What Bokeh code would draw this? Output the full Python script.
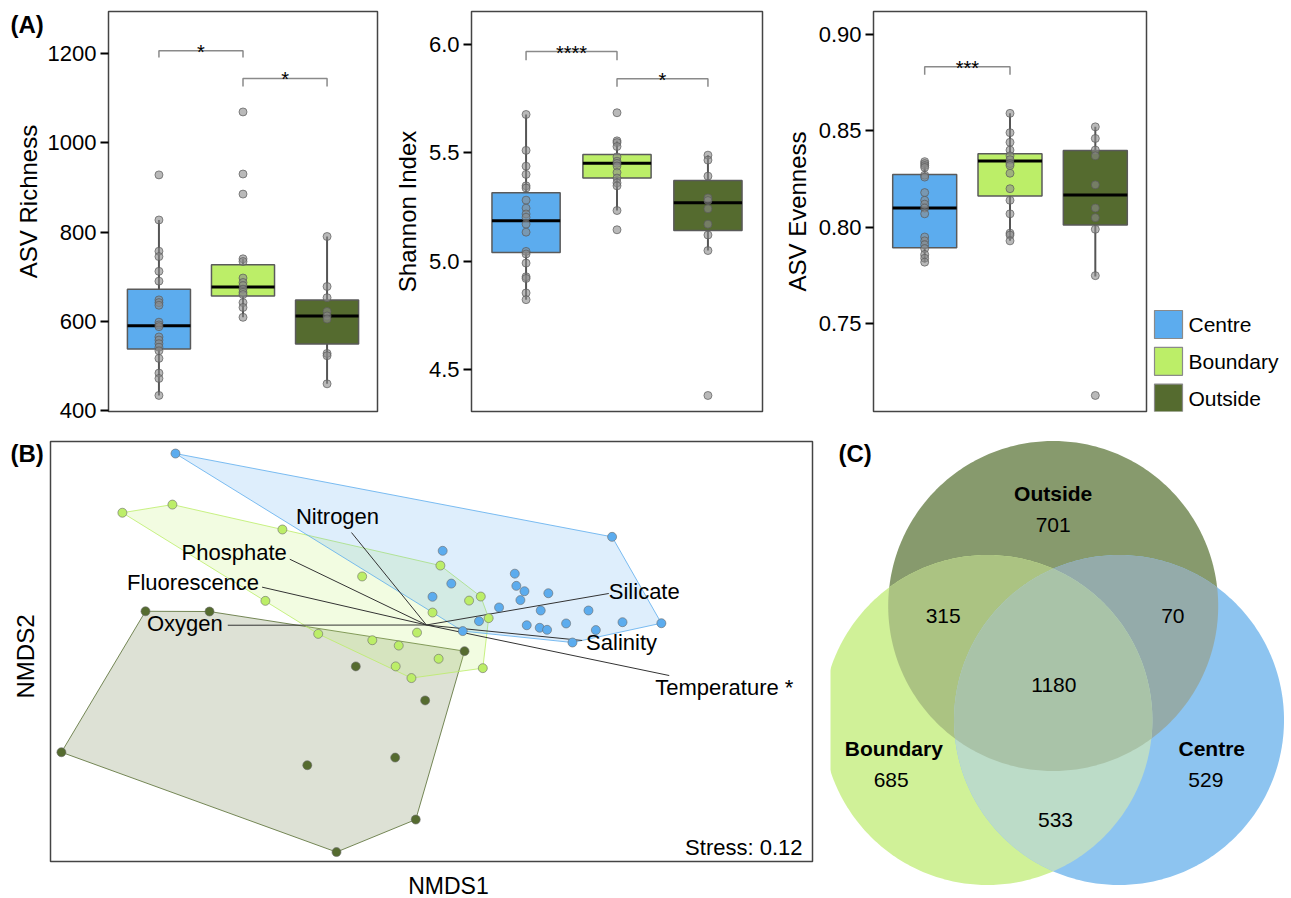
import numpy as np
from bokeh.plotting import figure
from bokeh.layouts import column, row
from bokeh.models import Range1d, FixedTicker, Label, NumeralTickFormatter
from bokeh.core.properties import value
from bokeh.embed import file_html
from bokeh.resources import INLINE

FONT = "Liberation Sans"

# ---------------- data ----------------
groups = ["Centre", "Boundary", "Outside"]
group_colors = ["#5CACEE", "#BCEE68", "#556B2F"]

# (A) ASV richness
rich_q1 = [538, 657, 549]
rich_med = [590, 677, 612]
rich_q3 = [672, 727, 648]
rich_lo = [434, 609, 460]
rich_hi = [827, 740, 790]
rich_centre = [928, 827, 757, 745, 712, 690, 648, 642, 636, 598, 592, 588, 565, 558, 550, 542, 534, 517, 484, 472, 434]
rich_boundary = [1069, 930, 885, 740, 734, 697, 687, 680, 672, 665, 660, 642, 631, 609]
rich_outside = [790, 678, 653, 622, 612, 605, 528, 523, 460]
rich_brackets = [(1, 2, 1206, 1191, "*"), (2, 3, 1144, 1126, "*")]

# (A) Shannon index
shan_q1 = [5.040, 5.384, 5.142]
shan_med = [5.187, 5.452, 5.270]
shan_q3 = [5.316, 5.493, 5.373]
shan_lo = [4.822, 5.234, 5.049]
shan_hi = [5.678, 5.556, 5.490]
shan_centre = [5.678, 5.512, 5.439, 5.401, 5.348, 5.338, 5.282, 5.245, 5.218, 5.203, 5.171, 5.134,
               5.045, 5.033, 4.991, 4.928, 4.920, 4.853, 4.822]
shan_boundary = [5.686, 5.556, 5.548, 5.530, 5.482, 5.462, 5.452, 5.440, 5.410, 5.384, 5.362, 5.348, 5.234, 5.145]
shan_outside = [5.490, 5.467, 5.393, 5.292, 5.280, 5.242, 5.171, 5.121, 5.049, 4.379]
shan_brackets = [(1, 2, 5.969, 5.929, "****"), (2, 3, 5.843, 5.806, "*")]

# (A) ASV evenness
even_q1 = [0.7895, 0.8162, 0.8012]
even_med = [0.8100, 0.8343, 0.8167]
even_q3 = [0.8273, 0.8381, 0.8398]
even_lo = [0.782, 0.793, 0.7745]
even_hi = [0.834, 0.859, 0.852]
even_centre = [0.834, 0.833, 0.832, 0.831, 0.827, 0.826, 0.818, 0.814, 0.812, 0.810, 0.807, 0.795,
               0.793, 0.791, 0.789, 0.786, 0.784, 0.782]
even_boundary = [0.859, 0.849, 0.844, 0.840, 0.837, 0.835, 0.833, 0.832, 0.828, 0.820, 0.814, 0.807,
                 0.797, 0.796, 0.793]
even_outside = [0.852, 0.846, 0.840, 0.837, 0.822, 0.810, 0.805, 0.799, 0.775, 0.713]
even_brackets = [(1, 2, 0.8831, 0.879, "***")]

# (B) NMDS site scores
nmds_centre_x = [-0.988, 0.731, 0.064, 0.348, 0.098, 0.354, 0.386, 0.480, 0.024, 0.370, 0.286, 0.638,
                 0.450, 0.207, 0.550, 0.395, 0.772, 0.925, 0.446, 0.475, 0.667, 0.143, 0.575]
nmds_centre_y = [0.675, 0.347, 0.292, 0.202, 0.163, 0.154, 0.133, 0.125, 0.111, 0.098, 0.069, 0.057,
                 0.057, 0.015, 0.006, -0.001, 0.011, 0.007, -0.011, -0.019, -0.020, -0.024, -0.069]
nmds_boundary_x = [-1.197, -1.000, -0.567, -0.253, -0.634, -0.426, -0.213, -0.109, -0.121, -0.059,
                   -0.037, 0.055, 0.168, 0.214, 0.024, 0.245, 0.048, 0.222]
nmds_boundary_y = [0.442, 0.474, 0.376, 0.191, 0.095, -0.035, -0.060, -0.081, -0.163, -0.209,
                   -0.030, 0.234, 0.096, 0.112, 0.049, 0.027, -0.133, -0.170]
nmds_outside_x = [-1.106, -0.854, -1.437, -0.278, -0.469, -0.123, -0.354, -0.042, 0.150, -0.005]
nmds_outside_y = [0.054, 0.053, -0.501, -0.163, -0.552, -0.522, -0.894, -0.766, -0.103, -0.297]

# (B) environmental fit vectors
env_names = ["Nitrogen", "Phosphate", "Fluorescence", "Oxygen", "Silicate", "Salinity", "Temperature *"]
env_x = [-0.295, -0.538, -0.647, -0.782, 0.718, 0.613, 0.956]
env_y = [0.364, 0.259, 0.149, -0.001, 0.124, -0.061, -0.199]
stress_text = "Stress: 0.12"

# (C) Venn counts
venn_regions = ["O", "B", "C", "OB", "OC", "BC", "OBC"]
venn_counts = [701, 685, 529, 315, 70, 533, 1180]

# ---------------- style / layout ----------------
venn_region_colors = {"O": "#879a6d", "B": "#d0f198", "C": "#8dc4f0", "OB": "#abc382",
                      "OC": "#94abaa", "BC": "#bcdcc8", "OBC": "#a9c3a8"}
env_label_layout = {"Nitrogen": ("center", -14, -16), "Phosphate": ("right", -3, -7),
                    "Fluorescence": ("right", -3, -5), "Oxygen": ("right", -5, -2),
                    "Silicate": ("left", 0, -2), "Salinity": ("left", 4, 2),
                    "Temperature *": ("left", -14, 12)}

ROW1_H, ROW1_TOP, ROW1_BOT = 424, 11, 13
ROW2_H = 474
NMDS_PX = 254.0                       # pixels per NMDS unit
NMDS_BOX = (-1.480, 1.520, -0.9311, 0.7224)   # panel limits (x0, x1, y0, y1)


def style_frame(p):
    p.outline_line_color = "#444444"
    p.outline_line_width = 1.5
    p.xgrid.grid_line_color = None
    p.ygrid.grid_line_color = None
    p.background_fill_color = "white"
    p.border_fill_color = "white"


def blank_fig(width, height, top=0, bot=0, xr=None, yr=None):
    p = figure(width=width, height=height,
               x_range=xr if xr is not None else Range1d(0, width),
               y_range=yr if yr is not None else Range1d(bot, height - top),
               output_backend="svg", toolbar_location=None, x_axis_location=None,
               y_axis_location=None, title_location=None,
               min_border_left=0, min_border_right=0, min_border_top=top, min_border_bottom=bot)
    p.outline_line_color = None
    p.xgrid.grid_line_color = None
    p.ygrid.grid_line_color = None
    return p


def side_labels(width, height, top, bot, letter, letter_xy, axis_text, axis_xy):
    p = blank_fig(width, height, top, bot)
    p.text(x=[letter_xy[0]], y=[height - letter_xy[1]], text=[letter], text_font=value(FONT),
           text_font_size="24px", text_font_style="bold", text_align="left",
           text_baseline="middle", text_color="black")
    p.text(x=[axis_xy[0]], y=[height - axis_xy[1]], text=[axis_text], text_font=value(FONT),
           text_font_size="24px", text_align="center", text_baseline="middle",
           angle=np.pi / 2, text_color="black")
    return p


def box_panel(width, bl, br, ylabel, yr, ticks, fmt, q1, med, q3, lo, hi, pts, brackets):
    p = figure(width=width, height=ROW1_H, x_range=Range1d(0.4, 3.6), y_range=Range1d(*yr),
               output_backend="svg", toolbar_location=None, x_axis_location=None, title_location=None,
               min_border_left=bl, min_border_right=br, min_border_top=ROW1_TOP, min_border_bottom=ROW1_BOT)
    style_frame(p)
    ax = p.yaxis[0]
    ax.ticker = FixedTicker(ticks=ticks)
    ax.formatter = NumeralTickFormatter(format=fmt)
    if ylabel:
        ax.axis_label = ylabel
    ax.axis_label_text_font = FONT
    ax.axis_label_text_font_size = "24px"
    ax.axis_label_text_font_style = "normal"
    ax.axis_label_text_color = "black"
    ax.axis_label_standoff = 5
    ax.major_label_text_font = FONT
    ax.major_label_text_font_size = "22px"
    ax.major_label_text_color = "black"
    ax.major_label_standoff = 4
    ax.axis_line_color = None
    ax.major_tick_out = 8
    ax.major_tick_in = 0
    ax.major_tick_line_width = 2
    ax.major_tick_line_color = "black"
    ax.minor_tick_line_color = None
    for i in range(3):
        x = i + 1
        p.segment(x0=[x], y0=[lo[i]], x1=[x], y1=[hi[i]], line_color="#555555", line_width=2)
        p.quad(left=[x - 0.375], right=[x + 0.375], bottom=[q1[i]], top=[q3[i]],
               fill_color=group_colors[i], line_color="#5a5a5a", line_width=1.5)
        p.segment(x0=[x - 0.375], y0=[med[i]], x1=[x + 0.375], y1=[med[i]],
                  line_color="black", line_width=3)
    for i in range(3):
        p.scatter(x=[i + 1] * len(pts[i]), y=pts[i], size=8, fill_color="#8a8a8a", fill_alpha=0.6,
                  line_color="#5a5a5a", line_alpha=0.7, line_width=1)
    for (a, b, y, leg, lab) in brackets:
        p.line(x=[a, a, b, b], y=[leg, y, y, leg], line_color="#8a8a8a", line_width=1.5)
        p.text(x=[(a + b) / 2], y=[y], text=[lab], text_font=value(FONT), text_font_size="20px",
               text_align="center", text_baseline="alphabetic", y_offset=1, text_color="black")
    return p


pA = side_labels(44, ROW1_H, ROW1_TOP, ROW1_BOT, "(A)", (10, 24), "ASV Richness", (28, 201))
p1 = box_panel(346, 61, 13, None, (398, 1294), [400, 600, 800, 1000, 1200], "0",
               rich_q1, rich_med, rich_q3, rich_lo, rich_hi,
               [rich_centre, rich_boundary, rich_outside], rich_brackets)
p2 = box_panel(390, 76, 18, "Shannon Index", (4.305, 6.154), [4.5, 5.0, 5.5, 6.0], "0.0",
               shan_q1, shan_med, shan_q3, shan_lo, shan_hi,
               [shan_centre, shan_boundary, shan_outside], shan_brackets)
p3 = box_panel(370, 86, 4, "ASV Evenness", (0.7047, 0.9117), [0.75, 0.80, 0.85, 0.90], "0.00",
               even_q1, even_med, even_q3, even_lo, even_hi,
               [even_centre, even_boundary, even_outside], even_brackets)

# legend (drawn as its own small panel)
pLeg = blank_fig(141, ROW1_H, ROW1_TOP, ROW1_BOT)
leg_top = [310 + i * 36.8 for i in range(len(groups))]
pLeg.quad(left=[4] * 3, right=[32] * 3, top=[ROW1_H - t for t in leg_top],
          bottom=[ROW1_H - t - 28 for t in leg_top],
          fill_color=group_colors, line_color="#8a8a8a", line_width=1.2)
pLeg.text(x=[38] * 3, y=[ROW1_H - t - 14 for t in leg_top], text=groups, text_font=value(FONT),
          text_font_size="21px", text_align="left", text_baseline="middle", text_color="black")

# ---------------- (B) NMDS ----------------
PB_W = 48
pB = side_labels(PB_W, ROW2_H, 0, 0, "(B)", (10, 453 - ROW1_H), "NMDS2", (25, 656 - ROW1_H))

P4_W = 830 - PB_W
bx0, bx1, by0, by1 = NMDS_BOX
x_start = bx0 - (50 - PB_W) / NMDS_PX
y_end = by1 + (441 - ROW1_H) / NMDS_PX
xr4 = Range1d(x_start, x_start + P4_W / NMDS_PX)
yr4 = Range1d(y_end - ROW2_H / NMDS_PX, y_end)
p4 = blank_fig(P4_W, ROW2_H, xr=xr4, yr=yr4)

# panel box
p4.quad(left=[bx0], right=[bx1], bottom=[by0], top=[by1], fill_color="white",
        line_color="#444444", line_width=1.5)


def convex_hull(xs, ys):
    pts = sorted(set(zip(xs, ys)))

    def cross(o, a, b):
        return (a[0] - o[0]) * (b[1] - o[1]) - (a[1] - o[1]) * (b[0] - o[0])
    lower, upper = [], []
    for pt in pts:
        while len(lower) >= 2 and cross(lower[-2], lower[-1], pt) <= 0:
            lower.pop()
        lower.append(pt)
    for pt in reversed(pts):
        while len(upper) >= 2 and cross(upper[-2], upper[-1], pt) <= 0:
            upper.pop()
        upper.append(pt)
    hull = lower[:-1] + upper[:-1]
    return [h[0] for h in hull], [h[1] for h in hull]


site_sets = [(nmds_centre_x, nmds_centre_y), (nmds_boundary_x, nmds_boundary_y), (nmds_outside_x, nmds_outside_y)]
for (xs, ys), c in zip(site_sets[::-1], group_colors[::-1]):
    hx, hy = convex_hull(xs, ys)
    p4.patch(hx, hy, fill_color=c, fill_alpha=0.2, line_color=c, line_alpha=0.8, line_width=1)

p4.segment(x0=[0] * len(env_x), y0=[0] * len(env_y), x1=env_x, y1=env_y, line_color="#333333", line_width=1)

for (xs, ys), c in zip(site_sets[::-1], group_colors[::-1]):
    p4.scatter(x=xs, y=ys, size=9, fill_color=c, line_color="#6a6a6a", line_alpha=0.6, line_width=1)

for name, ex, ey in zip(env_names, env_x, env_y):
    al, dx, dy = env_label_layout[name]
    p4.text(x=[ex], y=[ey], text=[name], text_font=value(FONT), text_font_size="22px",
            text_align=al, text_baseline="middle", x_offset=dx, y_offset=dy, text_color="black")

p4.text(x=[bx1], y=[by0], text=[stress_text], text_font=value(FONT), text_font_size="22px",
        text_align="right", text_baseline="middle", x_offset=-10, y_offset=-14, text_color="black")
p4.text(x=[(bx0 + bx1) / 2], y=[by0], text=["NMDS1"], text_font=value(FONT), text_font_size="23px",
        text_align="center", text_baseline="middle", x_offset=17, y_offset=25, text_color="black")

# ---------------- (C) Venn ----------------
VENN_PX = 165.0
venn_cx, venn_cy = 1052.7 - 830, 681.5 - ROW1_H
xr5 = Range1d(-venn_cx / VENN_PX, (461 - venn_cx) / VENN_PX)
yr5 = Range1d(-(ROW2_H - venn_cy) / VENN_PX, venn_cy / VENN_PX)
p5 = blank_fig(461, ROW2_H, xr=xr5, yr=yr5)

R = 1.0
D = 0.4606
venn_centres = {"O": (0.0, D), "B": (-D * np.cos(np.pi / 6), -D * np.sin(np.pi / 6)),
                "C": (D * np.cos(np.pi / 6), -D * np.sin(np.pi / 6))}


def circle_poly(cx, cy, r, n=360):
    t = np.linspace(0, 2 * np.pi, n, endpoint=False)
    return list(zip(cx + r * np.cos(t), cy + r * np.sin(t)))


def clip_poly(subject, clipper):
    out = subject
    m = len(clipper)
    for i in range(m):
        a = clipper[i]
        b = clipper[(i + 1) % m]
        inp = out
        out = []
        if not inp:
            break

        def inside(pt):
            return (b[0] - a[0]) * (pt[1] - a[1]) - (b[1] - a[1]) * (pt[0] - a[0]) >= 0

        def inter(p_, q_):
            x1, y1 = p_
            x2, y2 = q_
            x3, y3 = a
            x4, y4 = b
            den = (x1 - x2) * (y3 - y4) - (y1 - y2) * (x3 - x4)
            t = ((x1 - x3) * (y3 - y4) - (y1 - y3) * (x3 - x4)) / den
            return (x1 + t * (x2 - x1), y1 + t * (y2 - y1))
        s = inp[-1]
        for e in inp:
            if inside(e):
                if not inside(s):
                    out.append(inter(s, e))
                out.append(e)
            elif inside(s):
                out.append(inter(s, e))
            s = e
    return out


polys = {k: circle_poly(cx, cy, R) for k, (cx, cy) in venn_centres.items()}
for key in venn_regions:
    poly = polys[key[0]]
    for k in key[1:]:
        poly = clip_poly(poly, polys[k])
    p5.patch([q[0] for q in poly], [q[1] for q in poly], fill_color=venn_region_colors[key],
             line_color=None)

venn_count_pos = {"O": (0.0, 0.953), "B": (-0.982, -0.591), "C": (0.925, -0.591),
                  "OB": (-0.667, 0.403), "OC": (0.725, 0.403), "BC": (0.014, -0.835), "OBC": (0.004, -0.017)}
venn_name_pos = {"Outside": (0.0, 1.141), "Boundary": (-0.966, -0.405), "Centre": (0.961, -0.405)}

p5.text(x=[venn_count_pos[k][0] for k in venn_regions], y=[venn_count_pos[k][1] for k in venn_regions],
        text=[str(c) for c in venn_counts], text_font=value(FONT), text_font_size="21px",
        text_align="center", text_baseline="middle", text_color="black")
p5.text(x=[venn_name_pos[g][0] for g in groups], y=[venn_name_pos[g][1] for g in groups],
        text=groups, text_font=value(FONT), text_font_size="21px", text_font_style="bold",
        text_align="center", text_baseline="middle", text_color="black")
p5.text(x=[xr5.start], y=[yr5.end], text=["(C)"], text_font=value(FONT), text_font_style="bold",
        text_font_size="24px", text_align="left", text_baseline="middle", x_offset=8,
        y_offset=453 - ROW1_H, text_color="black")

layout = column(row(pA, p1, p2, p3, pLeg), row(pB, p4, p5))
open("out.html", "w").write(file_html(layout, INLINE))
